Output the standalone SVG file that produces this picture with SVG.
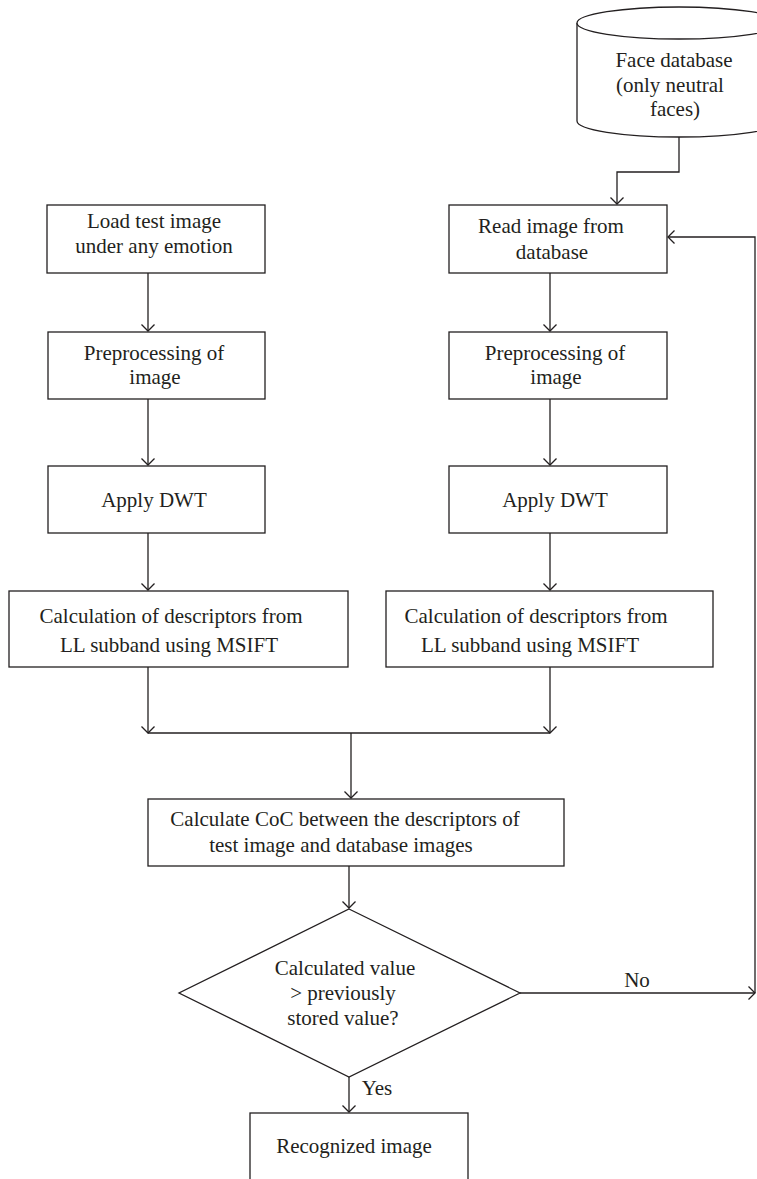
<svg xmlns="http://www.w3.org/2000/svg" width="757" height="1179" viewBox="0 0 757 1179">
<style>
.box{fill:#fff;stroke:#231f20;stroke-width:1.3}
.ln{fill:none;stroke:#231f20;stroke-width:1.3}
text{font-family:"Liberation Serif","Times New Roman",serif;font-size:21px;fill:#231f20;text-anchor:middle}
</style>
<defs>
<marker id="arr" markerWidth="16" markerHeight="16" refX="8" refY="8" orient="auto" markerUnits="userSpaceOnUse" viewBox="0 0 16 16">
<path d="M1.5,1.5 L8,8 L1.5,14.5" fill="none" stroke="#231f20" stroke-width="1.3"/>
</marker>
</defs>
<rect width="757" height="1179" fill="#fff"/>
<g id="connectors">
<path class="ln" d="M679,137 V172 H617 V204" marker-end="url(#arr)"/>
<path class="ln" d="M148,273 V331" marker-end="url(#arr)"/>
<path class="ln" d="M148,399 V465" marker-end="url(#arr)"/>
<path class="ln" d="M148,533 V590" marker-end="url(#arr)"/>
<path class="ln" d="M550,273 V331" marker-end="url(#arr)"/>
<path class="ln" d="M550,399 V465" marker-end="url(#arr)"/>
<path class="ln" d="M550,533 V590" marker-end="url(#arr)"/>
<path class="ln" d="M148,667 V733" marker-end="url(#arr)"/>
<path class="ln" d="M550,667 V733" marker-end="url(#arr)"/>
<path class="ln" d="M148,733 H550"/>
<path class="ln" d="M351,733 V798" marker-end="url(#arr)"/>
<path class="ln" d="M349,866 V908" marker-end="url(#arr)"/>
<path class="ln" d="M520,993 H755" marker-end="url(#arr)"/>
<path class="ln" d="M755,993 V237 H668" marker-end="url(#arr)"/>
<path class="ln" d="M349,1077 V1112" marker-end="url(#arr)"/>
<text x="637" y="987">No</text>
<text x="377" y="1095">Yes</text>
</g>
<g id="face-db">
<path class="box" d="M577,23 V121 A102,16 0 0 0 781,121 V23"/>
<ellipse class="box" cx="679" cy="23" rx="102" ry="16"/>
<text x="674" y="67">Face database</text>
<text x="670" y="92">(only neutral</text>
<text x="675" y="116">faces)</text>
</g>
<g id="load-test">
<rect class="box" x="47" y="205" width="218" height="68"/>
<text x="154" y="228">Load test image</text>
<text x="154" y="253">under any emotion</text>
</g>
<g id="read-db">
<rect class="box" x="449" y="205" width="218" height="68"/>
<text x="551" y="233">Read image from</text>
<text x="552" y="259">database</text>
</g>
<g id="pre-left">
<rect class="box" x="48" y="332" width="217" height="67"/>
<text x="154" y="360">Preprocessing of</text>
<text x="155" y="384">image</text>
</g>
<g id="pre-right">
<rect class="box" x="449" y="332" width="218" height="67"/>
<text x="555" y="360">Preprocessing of</text>
<text x="556" y="384">image</text>
</g>
<g id="dwt-left">
<rect class="box" x="48" y="466" width="217" height="67"/>
<text x="154" y="507">Apply DWT</text>
</g>
<g id="dwt-right">
<rect class="box" x="449" y="466" width="218" height="67"/>
<text x="555" y="507">Apply DWT</text>
</g>
<g id="calc-left">
<rect class="box" x="9" y="591" width="339" height="76"/>
<text x="171" y="623">Calculation of descriptors from</text>
<text x="169" y="652">LL subband using MSIFT</text>
</g>
<g id="calc-right">
<rect class="box" x="386" y="591" width="327" height="76"/>
<text x="536" y="623">Calculation of descriptors from</text>
<text x="530" y="652">LL subband using MSIFT</text>
</g>
<g id="coc">
<rect class="box" x="148" y="799" width="416" height="67"/>
<text x="345" y="826">Calculate CoC between the descriptors of</text>
<text x="341" y="852">test image and database images</text>
</g>
<g id="decision">
<polygon class="box" points="349,909 520,993 349,1077 179,993"/>
<text x="345" y="975">Calculated value</text>
<text x="343" y="1000">&gt; previously</text>
<text x="343" y="1025">stored value?</text>
</g>
<g id="recognized">
<rect class="box" x="250" y="1113" width="218" height="100"/>
<text x="354" y="1153">Recognized image</text>
</g>
</svg>
